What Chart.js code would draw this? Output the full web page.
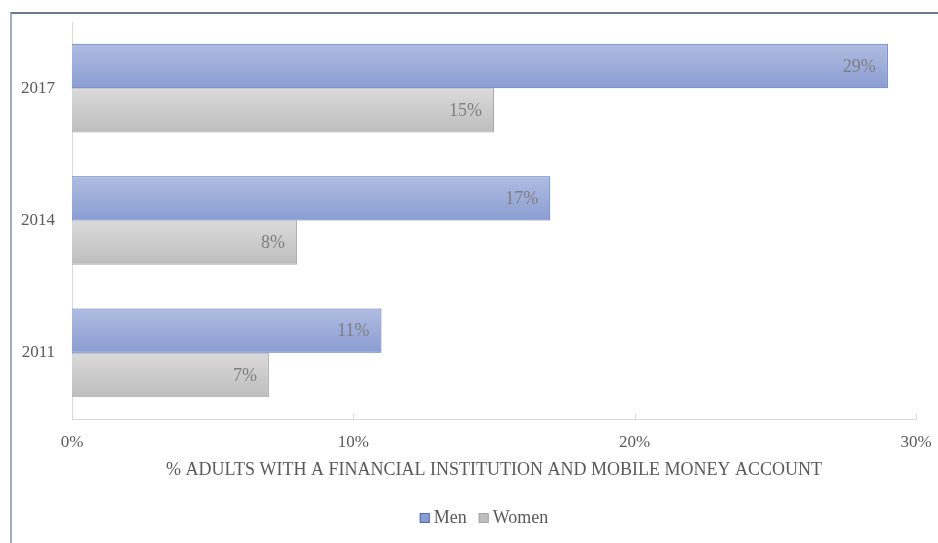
<!doctype html>
<html lang="en">
<head>
  <meta charset="utf-8">
  <title>Account ownership by gender</title>
  <style>
    * { margin: 0; padding: 0; }
    body { width: 938px; height: 543px; background: #fff; position: relative; overflow: hidden; }
    .frame {
      position: absolute; left: 10px; top: 12px; width: 940px; height: 540px;
      border-top: 2px solid #6b7b96; border-left: 2px solid #a3adbe;
      pointer-events: none;
    }
    .chartBox { position: absolute; left: 0; top: 0; width: 938px; height: 543px; }
  </style>
</head>
<body>
  <div class="chartBox"><canvas id="myChart"></canvas></div>
  <div class="frame"></div>
  <script src="https://cdn.jsdelivr.net/npm/chart.js/dist/chart.umd.min.js"></script>
  <script>
    // setup
    const years = ['2017', '2014', '2011'];
    const men = [29, 17, 11];
    const women = [15, 8, 7];
    const xTicks = [0, 10, 20, 30];
    const axisTitle = '% ADULTS WITH A FINANCIAL INSTITUTION AND MOBILE MONEY ACCOUNT';

    const serif = "'Liberation Serif', 'DejaVu Serif', serif";
    const textGray = '#595959';

    const data = {
      labels: years,
      datasets: [{
        label: 'Men',
        data: men,
        backgroundColor: () => '#9aaad8',
        borderColor: '#4a6dbf',
        borderWidth: 1,
        grad: ['#b0bce1', '#8a9dd2']
      }, {
        label: 'Women',
        data: women,
        backgroundColor: () => '#cccccc',
        borderColor: '#a8a8a8',
        borderWidth: 1,
        grad: ['#dadada', '#bdbdbd']
      }]
    };

    // gradient fill per bar, top to bottom
    const barGradient = {
      id: 'barGradient',
      beforeDatasetsDraw(chart) {
        const { ctx } = chart;
        chart.data.datasets.forEach((ds, i) => {
          chart.getDatasetMeta(i).data.forEach(bar => {
            const top = bar.y - bar.height / 2;
            const g = ctx.createLinearGradient(0, top, 0, top + bar.height);
            g.addColorStop(0, ds.grad[0]);
            g.addColorStop(1, ds.grad[1]);
            bar.options.backgroundColor = g;
          });
        });
      }
    };

    // value labels inside end of each bar + little tick marks on the x axis
    const valueLabels = {
      id: 'valueLabels',
      afterDatasetsDraw(chart) {
        const { ctx, scales: { x }, chartArea } = chart;
        ctx.save();
        ctx.strokeStyle = '#d9d9d9';
        ctx.lineWidth = 1;
        xTicks.slice(1).forEach(v => {
          const px = Math.round(x.getPixelForValue(v)) + 0.5;
          ctx.beginPath();
          ctx.moveTo(px, chartArea.bottom);
          ctx.lineTo(px, chartArea.bottom - 5);
          ctx.stroke();
        });

        ctx.font = '18px ' + serif;
        ctx.fillStyle = '#7f7f7f';
        ctx.textAlign = 'right';
        ctx.textBaseline = 'middle';
        chart.data.datasets.forEach((ds, i) => {
          chart.getDatasetMeta(i).data.forEach((bar, j) => {
            ctx.fillText(ds.data[j] + '%', bar.x - 12, bar.y + 1);
          });
        });
        ctx.restore();
      }
    };

    // compact legend at the bottom (box right next to the text)
    const bottomLegend = {
      id: 'bottomLegend',
      afterDraw(chart) {
        const { ctx } = chart;
        const y = 518;
        ctx.save();
        ctx.font = '18px ' + serif;
        ctx.textBaseline = 'middle';
        const items = chart.data.datasets.map(ds => ({ ds, w: 10 + 4 + ctx.measureText(ds.label).width }));
        const gap = 12;
        const total = items.reduce((s, it) => s + it.w, 0) + gap * (items.length - 1);
        let xPos = 484 - total / 2;
        items.forEach(({ ds, w }) => {
          ctx.fillStyle = ds.grad[1];
          ctx.fillRect(xPos, y - 5, 10, 10);
          ctx.strokeStyle = ds.borderColor;
          ctx.lineWidth = 1;
          ctx.strokeRect(xPos + 0.5, y - 4.5, 9, 9);
          ctx.fillStyle = textGray;
          ctx.fillText(ds.label, xPos + 14, y);
          xPos += w + gap;
        });
        ctx.restore();
      }
    };

    // config
    const config = {
      type: 'bar',
      data,
      options: {
        indexAxis: 'y',
        responsive: false,
        animation: false,
        layout: { padding: { top: 22, right: 22, left: 0, bottom: 47 } },
        datasets: { bar: { categoryPercentage: 0.67, barPercentage: 1 } },
        plugins: {
          tooltip: { enabled: false },
          legend: { display: false }
        },
        scales: {
          x: {
            min: 0,
            max: 30,
            afterBuildTicks: (scale) => { scale.ticks = xTicks.map(v => ({ value: v })); },
            ticks: {
              font: { family: serif, size: 17 },
              color: textGray,
              padding: 5,
              callback: (value) => value + '%'
            },
            grid: { display: false },
            border: { display: true, color: '#d9d9d9', width: 1 },
            title: {
              display: true,
              text: axisTitle,
              font: { family: serif, size: 18 },
              color: textGray,
              padding: { top: 1, bottom: 15 }
            },
            afterFit: (scale) => { scale.height = 77; }
          },
          y: {
            ticks: {
              font: { family: serif, size: 17 },
              color: textGray,
              padding: 9
            },
            grid: { display: false },
            border: { display: true, color: '#d9d9d9', width: 1 },
            afterFit: (scale) => { scale.width = 72; }
          }
        }
      },
      plugins: [barGradient, valueLabels, bottomLegend]
    };

    // render init block
    const canvas = document.getElementById('myChart');
    canvas.width = 938;
    canvas.height = 543;
    const myChart = new Chart(canvas, config);
  </script>
</body>
</html>
